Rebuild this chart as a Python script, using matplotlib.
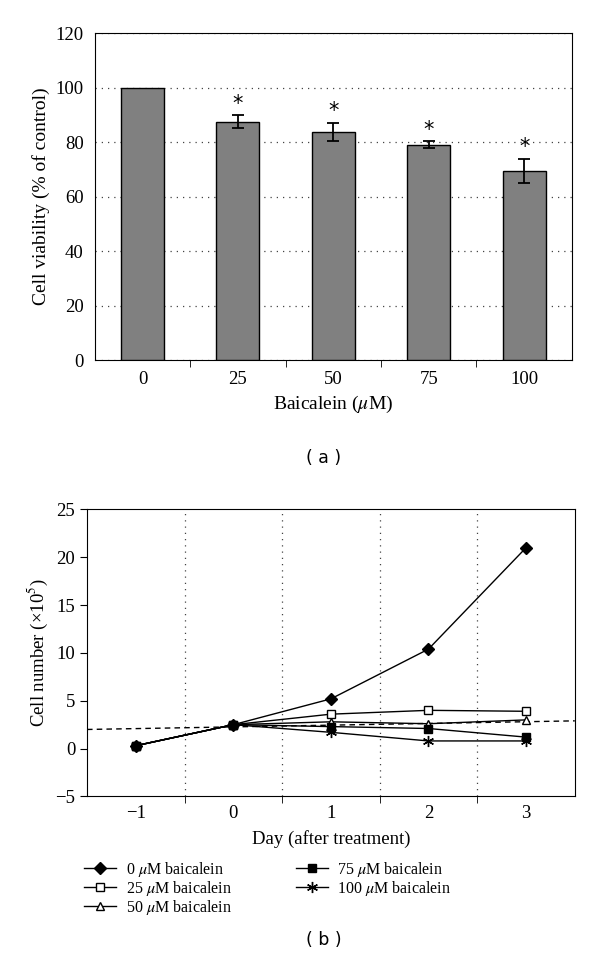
import matplotlib
matplotlib.use("Agg")
import matplotlib.pyplot as plt

plt.rcParams['font.family'] = ['Liberation Serif', 'DejaVu Serif']
plt.rcParams['mathtext.fontset'] = 'stix'

# (a) cell viability
doses = ['0', '25', '50', '75', '100']
viability = [100, 87.5, 83.8, 79.0, 69.4]
viability_err = [0, 2.3, 3.3, 1.3, 4.5]
significant = [False, True, True, True, True]

# (b) cell number over time
days = [-1, 0, 1, 2, 3]
day_labels = ['\u22121', '0', '1', '2', '3']
cells_0 = [0.3, 2.5, 5.2, 10.4, 21.0]
cells_25 = [0.3, 2.5, 3.6, 4.0, 3.9]
cells_50 = [0.3, 2.5, 2.8, 2.6, 3.0]
cells_75 = [0.3, 2.5, 2.3, 2.1, 1.2]
cells_100 = [0.3, 2.5, 1.7, 0.8, 0.8]
trend_x = [-1.5, 3.5]
trend_y = [2.0, 2.9]

fig = plt.figure(figsize=(6, 9.76), dpi=100)

# ---- panel (a) ----
ax1 = fig.add_axes([0.158, 0.631, 0.795, 0.335])
x = list(range(len(doses)))
ax1.bar(x, viability, width=0.45, color='#808080', edgecolor='black',
        linewidth=1.0, zorder=3)
ax1.errorbar(x[1:], viability[1:], yerr=viability_err[1:], fmt='none',
             ecolor='black', elinewidth=1.3, capsize=4, capthick=1.3, zorder=4)
for xi, v, e, s in zip(x, viability, viability_err, significant):
    if s:
        ax1.text(xi, v + e + 0.6, '*', ha='center', va='bottom',
                 fontsize=15, family='DejaVu Sans')
ax1.set_xlim(-0.5, 4.5)
ax1.set_ylim(0, 120)
ax1.set_yticks(range(0, 121, 20))
ax1.set_xticks(x)
ax1.set_xticklabels(doses)
ax1.set_xticks([0.5, 1.5, 2.5, 3.5], minor=True)
ax1.tick_params(axis='x', which='major', length=0, labelsize=13.5, pad=8)
ax1.tick_params(axis='x', which='minor', length=5, direction='out')
ax1.tick_params(axis='y', length=0, labelsize=13.5, pad=8)
ax1.yaxis.grid(True, linestyle=(0, (1, 4)), color='#444444', linewidth=0.9, zorder=0)
ax1.set_axisbelow(True)
ax1.set_ylabel('Cell viability (% of control)', fontsize=14)
ax1.set_xlabel('Baicalein ($\\mathit{\\mu}$M)', fontsize=14, labelpad=4)
fig.text(0.54, 0.531, '( a )', ha='center', va='center', fontsize=12.5,
         family='DejaVu Sans')

# ---- panel (b) ----
ax2 = fig.add_axes([0.145, 0.184, 0.813, 0.294])
lw = 1.0
ax2.plot(days, cells_0, color='black', lw=lw, marker='D', ms=6,
         mfc='black', mec='black', label='0 $\\mathit{\\mu}$M baicalein', zorder=5)
ax2.plot(days, cells_25, color='black', lw=lw, marker='s', ms=6,
         mfc='white', mec='black', label='25 $\\mathit{\\mu}$M baicalein', zorder=4)
ax2.plot(days, cells_50, color='black', lw=lw, marker='^', ms=6,
         mfc='white', mec='black', label='50 $\\mathit{\\mu}$M baicalein', zorder=4)
ax2.plot(days, cells_75, color='black', lw=lw, marker='s', ms=6,
         mfc='black', mec='black', label='75 $\\mathit{\\mu}$M baicalein', zorder=4)
ax2.plot(days, cells_100, color='black', lw=lw, marker=(6, 2, 0), ms=8,
         mfc='black', mec='black', label='100 $\\mathit{\\mu}$M baicalein', zorder=4)
ax2.plot(trend_x, trend_y, color='black', lw=1.0, linestyle=(0, (4, 3)), zorder=3)

ax2.set_xlim(-1.5, 3.5)
ax2.set_ylim(-5, 25)
ax2.set_yticks(range(-5, 26, 5))
ax2.set_yticklabels(['\u22125', '0', '5', '10', '15', '20', '25'])
ax2.set_xticks(days)
ax2.set_xticklabels(day_labels)
ax2.set_xticks([-0.5, 0.5, 1.5, 2.5], minor=True)
ax2.tick_params(axis='x', which='major', length=0, labelsize=13.5, pad=6)
ax2.tick_params(axis='x', which='minor', length=5, direction='out')
ax2.tick_params(axis='y', length=5, direction='out', labelsize=13.5)
ax2.xaxis.grid(True, which='minor', linestyle=(0, (1, 4)), color='#444444',
               linewidth=0.9)
ax2.set_ylabel('Cell number (\u00d710$^5$)', fontsize=13.5)
ax2.set_xlabel('Day (after treatment)', fontsize=13.5, labelpad=6)

ax2.legend(loc='upper left', bbox_to_anchor=(0.14, 0.119), bbox_transform=fig.transFigure,
           ncol=2, frameon=False, fontsize=11.5, handlelength=2.0, handletextpad=0.6,
           columnspacing=4.0, labelspacing=0.0, borderaxespad=0, borderpad=0)

fig.text(0.54, 0.037, '( b )', ha='center', va='center', fontsize=12.5,
         family='DejaVu Sans')

fig.savefig('out.png', dpi=100)
